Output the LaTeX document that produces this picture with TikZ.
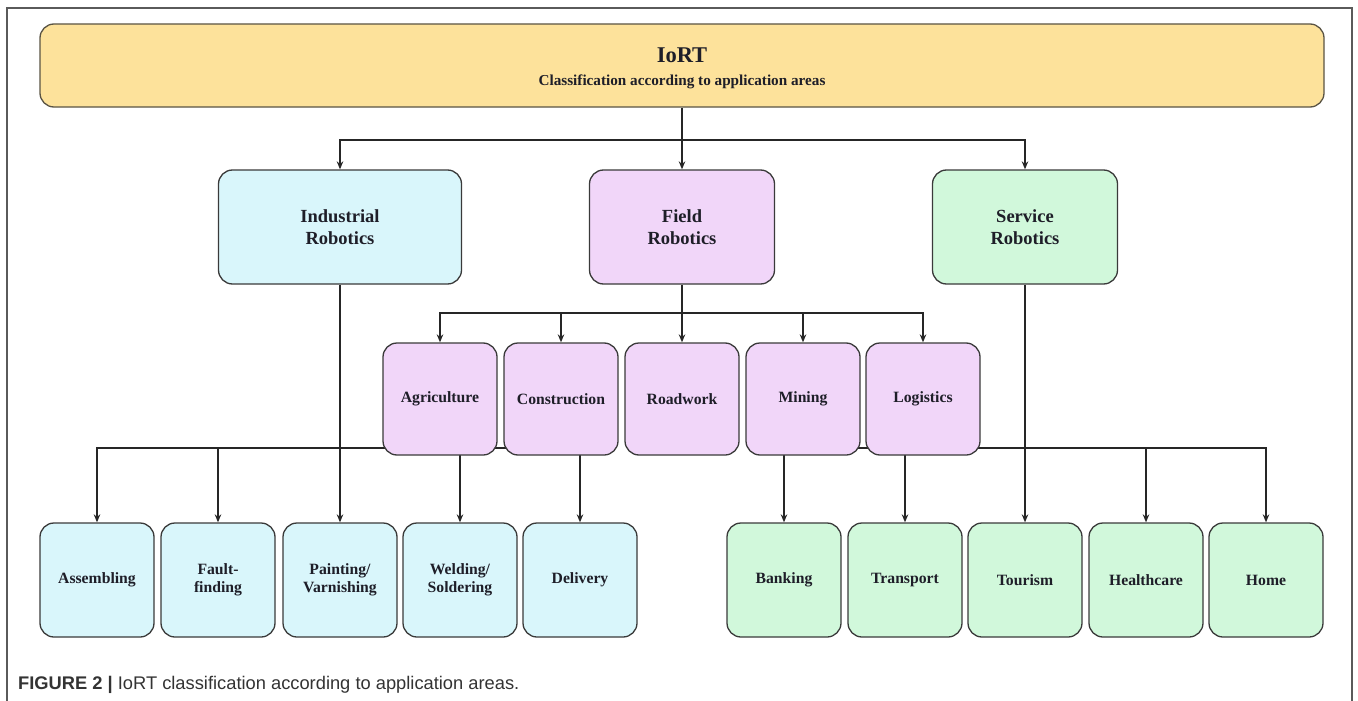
\documentclass[tikz,border=0pt]{standalone}
\usepackage{fontspec}
\setmainfont{Liberation Serif}
\newfontfamily\capfont{Liberation Sans}
\usetikzlibrary{arrows.meta}
\pgfdeclarelayer{bg}
\pgfsetlayers{bg,main}
\definecolor{topfill}{HTML}{FDE29B}
\definecolor{topline}{HTML}{5A5444}
\definecolor{indfill}{HTML}{D9F6FB}
\definecolor{fldfill}{HTML}{F1D6F9}
\definecolor{srvfill}{HTML}{D1F8DB}
\definecolor{boxline}{HTML}{3A3A3A}
\definecolor{txtcol}{HTML}{1E1E28}
\definecolor{framecol}{HTML}{5A5A5A}
\definecolor{capcol}{HTML}{333333}
\tikzset{
  box/.style={draw=boxline, line width=1.3pt, rounded corners=14pt, inner sep=0pt,
    align=center, text=txtcol, font=\bfseries\fontsize{15.7}{18.5}\selectfont},
  midbox/.style={box, minimum width=185pt, minimum height=114pt,
    font=\bfseries\fontsize{18.5}{22}\selectfont},
  leaf/.style={box, minimum width=114pt, minimum height=114pt},
  fleaf/.style={box, minimum width=114pt, minimum height=112pt, fill=fldfill},
  conn/.style={draw=black!85, line width=1.5pt},
  arr/.style={conn, -{Stealth[length=8pt,width=6.5pt]}}
}
\begin{document}
\begin{tikzpicture}[x=1pt,y=-1pt]
\useasboundingbox (0,0) rectangle (1358,701);
\draw[framecol, line width=1.5pt] (7,701) -- (7,8) -- (1352,8) -- (1352,701);

% top box
\node[draw=topline, fill=topfill, line width=1.3pt, rounded corners=14pt,
  minimum width=1284pt, minimum height=83pt, inner sep=0pt] (top) at (682,65.5) {};
\node[anchor=base, text=txtcol, font=\bfseries\fontsize{22.5}{26}\selectfont] (t1) at (682,63) {IoRT};
\node[anchor=base, text=txtcol, font=\bfseries\fontsize{15.2}{18}\selectfont] (t2) at (682,85) {Classification according to application areas};

% level 2
\node[midbox, fill=indfill, minimum width=243pt] (ind) at (340,227) {Industrial\\Robotics};
\node[midbox, fill=fldfill] (fld) at (682,227) {Field\\Robotics};
\node[midbox, fill=srvfill] (srv) at (1025,227) {Service\\Robotics};

% field leaves
\node[fleaf] (f1) at (440,399) {Agriculture};
\node[fleaf] (f2) at (561,399) {Construction};
\node[fleaf] (f3) at (682,399) {Roadwork};
\node[fleaf] (f4) at (803,399) {Mining};
\node[fleaf] (f5) at (923,399) {Logistics};

% industrial leaves
\node[leaf, fill=indfill] (i1) at (97,580) {Assembling};
\node[leaf, fill=indfill] (i2) at (218,580) {Fault-\\finding};
\node[leaf, fill=indfill] (i3) at (340,580) {Painting/\\Varnishing};
\node[leaf, fill=indfill] (i4) at (460,580) {Welding/\\Soldering};
\node[leaf, fill=indfill] (i5) at (580,580) {Delivery};

% service leaves
\node[leaf, fill=srvfill] (s1) at (784,580) {Banking};
\node[leaf, fill=srvfill] (s2) at (905,580) {Transport};
\node[leaf, fill=srvfill] (s3) at (1025,580) {Tourism};
\node[leaf, fill=srvfill] (s4) at (1146,580) {Healthcare};
\node[leaf, fill=srvfill] (s5) at (1266,580) {Home};

% junctions
\coordinate (j1) at (682,140);
\coordinate (j2) at (340,448);
\coordinate (j3) at (682,313);
\coordinate (j4) at (1025,448);

\begin{pgfonlayer}{bg}
\draw[conn] (top.south) -- (j1);
\draw[arr] (j1) -| (ind.north);
\draw[arr] (j1) -- (fld.north);
\draw[arr] (j1) -| (srv.north);

\draw[conn] (fld.south) -- (j3);
\foreach \n in {f1,f2,f4,f5} \draw[arr] (j3) -| (\n.north);
\draw[arr] (j3) -- (f3.north);

\draw[conn] (ind.south) -- (j2);
\foreach \n in {i1,i2,i4,i5} \draw[arr] (j2) -| (\n.north);
\draw[arr] (j2) -- (i3.north);

\draw[conn] (srv.south) -- (j4);
\foreach \n in {s1,s2,s4,s5} \draw[arr] (j4) -| (\n.north);
\draw[arr] (j4) -- (s3.north);
\end{pgfonlayer}

% caption
\node[anchor=base west, inner sep=0pt, text=capcol, font=\capfont\fontsize{18.3}{21}\selectfont] (cap) at (18,689)
  {\textbf{FIGURE 2 |} IoRT classification according to application areas.};
\end{tikzpicture}
\end{document}
